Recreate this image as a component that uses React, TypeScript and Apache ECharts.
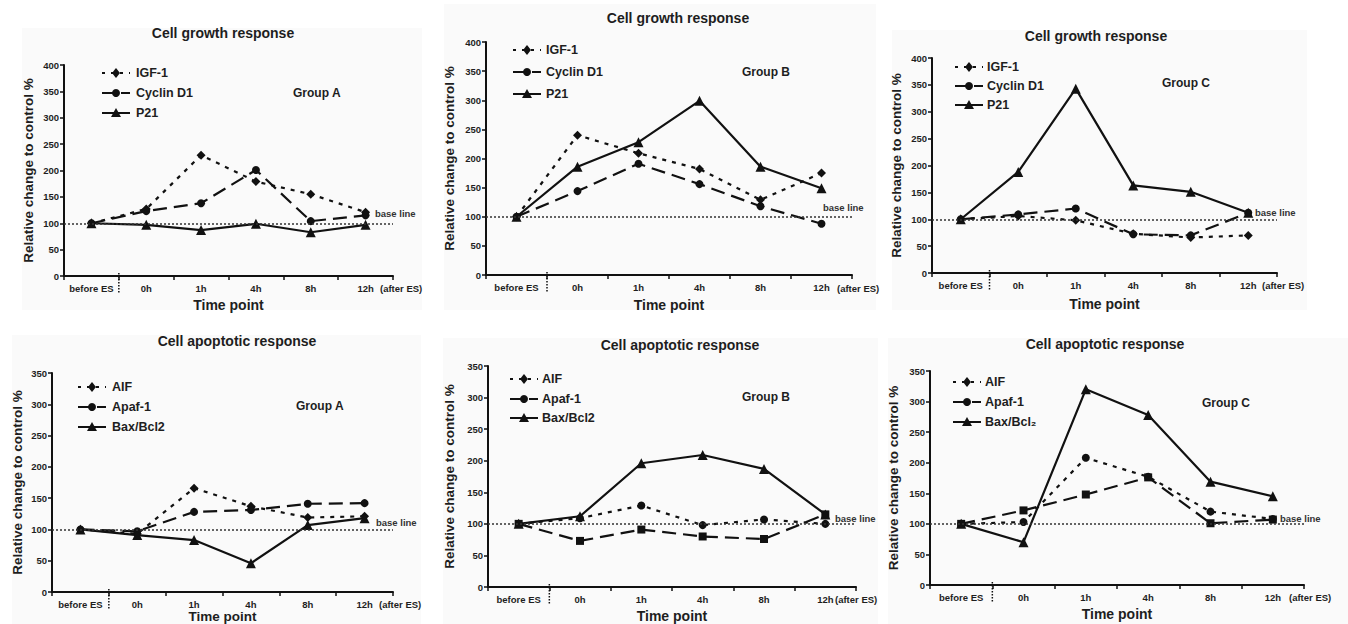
import React, { useEffect, useRef } from 'react';
import * as echarts from 'echarts';

const FONT = 'Liberation Sans, Arial, sans-serif';

const categories = ['before ES', '0h', '1h', '4h', '8h', '12h'];

const growthNames = ['IGF-1', 'Cyclin D1', 'P21'];
const apopNames = ['AIF', 'Apaf-1', 'Bax/Bcl2'];
const apopNamesC = ['AIF', 'Apaf-1', 'Bax/Bcl₂'];

// Cell growth response
const growthA_IGF1 = [100, 127, 229, 179, 155, 121];
const growthA_CyclinD1 = [100, 123, 138, 201, 104, 115];
const growthA_P21 = [100, 97, 87, 99, 83, 97];

const growthB_IGF1 = [100, 240, 209, 182, 129, 175];
const growthB_CyclinD1 = [100, 144, 191, 156, 118, 88];
const growthB_P21 = [100, 186, 228, 299, 186, 149];

const growthC_IGF1 = [100, 106, 98, 73, 66, 70];
const growthC_CyclinD1 = [100, 109, 120, 72, 70, 112];
const growthC_P21 = [100, 188, 343, 163, 151, 112];

// Cell apoptotic response
const apopA_AIF = [100, 93, 166, 137, 119, 121];
const apopA_Apaf1 = [100, 97, 128, 131, 141, 142];
const apopA_BaxBcl2 = [100, 91, 83, 46, 107, 118];

const apopB_AIF = [100, 109, 129, 98, 107, 100];
const apopB_Apaf1 = [100, 73, 91, 80, 76, 115];
const apopB_BaxBcl2 = [100, 112, 196, 209, 187, 115];

const apopC_AIF = [100, 103, 208, 177, 120, 108];
const apopC_Apaf1 = [100, 122, 148, 176, 101, 107];
const apopC_BaxBcl2 = [100, 70, 320, 278, 169, 145];

const growthMax = 400;
const apopMax = 350;
const tickInterval = 50;
const baseLineValue = 100;

const panels = [
  {
    title: 'Cell growth response', group: 'Group A', names: growthNames,
    data: [growthA_IGF1, growthA_CyclinD1, growthA_P21],
    symbols: ['diamond', 'circle', 'triangle'], max: growthMax,
    grid: { left: 64, top: 65, width: 329, height: 211 },
    titlePos: [223, 33], legend: { x: 102, ys: [73, 93, 113], tx: 136 },
    groupPos: [293, 93], basePos: [375, 213], afterPos: [380, 288],
    bg: [22, 28, 400, 282], yGap: 29, xGap: 22, xNameSize: 14,
  },
  {
    title: 'Cell growth response', group: 'Group B', names: growthNames,
    data: [growthB_IGF1, growthB_CyclinD1, growthB_P21],
    symbols: ['diamond', 'circle', 'triangle'], max: growthMax,
    grid: { left: 486, top: 42, width: 366, height: 233 },
    titlePos: [678, 18], legend: { x: 513, ys: [50, 72, 94], tx: 546 },
    groupPos: [742, 72], basePos: [823, 207], afterPos: [837, 288],
    bg: [444, 4, 432, 306], yGap: 30, xGap: 23, xNameSize: 14,
  },
  {
    title: 'Cell growth response', group: 'Group C', names: growthNames,
    data: [growthC_IGF1, growthC_CyclinD1, growthC_P21],
    symbols: ['diamond', 'circle', 'triangle'], max: growthMax,
    grid: { left: 932, top: 58, width: 345, height: 215 },
    titlePos: [1096, 36], legend: { x: 955, ys: [67, 86, 105], tx: 987 },
    groupPos: [1162, 83], basePos: [1255, 212], afterPos: [1262, 285],
    bg: [892, 30, 415, 280], yGap: 29, xGap: 24, xNameSize: 14,
  },
  {
    title: 'Cell apoptotic response', group: 'Group A', names: apopNames,
    data: [apopA_AIF, apopA_Apaf1, apopA_BaxBcl2],
    symbols: ['diamond', 'circle', 'triangle'], max: apopMax,
    grid: { left: 52, top: 373, width: 341, height: 219 },
    titlePos: [237, 341], legend: { x: 78, ys: [387, 407, 427], tx: 112 },
    groupPos: [296, 406], basePos: [376, 522], afterPos: [379, 604],
    bg: [12, 335, 409, 289], yGap: 28, xGap: 16, xNameSize: 13.5,
  },
  {
    title: 'Cell apoptotic response', group: 'Group B', names: apopNames,
    data: [apopB_AIF, apopB_Apaf1, apopB_BaxBcl2],
    symbols: ['circle', 'rect', 'triangle'], max: apopMax,
    grid: { left: 488, top: 366, width: 368, height: 221 },
    titlePos: [680, 345], legend: { x: 510, ys: [379, 399, 418], tx: 542 },
    groupPos: [742, 397], basePos: [835, 518], afterPos: [835, 599],
    bg: [443, 338, 435, 286], yGap: 32, xGap: 22, xNameSize: 14,
  },
  {
    title: 'Cell apoptotic response', group: 'Group C', names: apopNamesC,
    data: [apopC_AIF, apopC_Apaf1, apopC_BaxBcl2],
    symbols: ['circle', 'rect', 'triangle'], max: apopMax,
    grid: { left: 930, top: 371, width: 374, height: 214 },
    titlePos: [1105, 344], legend: { x: 953, ys: [382, 402, 422], tx: 985 },
    groupPos: [1202, 403], basePos: [1280, 518], afterPos: [1289, 597],
    bg: [888, 338, 460, 286], yGap: 30, xGap: 22, xNameSize: 14,
  },
];

const legendSymbols = ['diamond', 'circle', 'triangle'];
const lineDashes: any[] = [[3, 6], [12, 7], null];
const seriesDash: any[] = [[4, 6], [14, 7], 'solid'];
const symbolSizes: Record<string, number> = { diamond: 9, circle: 8, triangle: 10, rect: 8 };

const INK = '#111';
const TEXT = '#1e1e1e';

function legendSymbol(kind: string, cx: number, cy: number) {
  if (kind === 'circle') {
    return { type: 'circle', shape: { cx, cy, r: 4 }, style: { fill: INK } };
  }
  if (kind === 'diamond') {
    return {
      type: 'polygon',
      shape: { points: [[cx, cy - 5], [cx + 4, cy], [cx, cy + 5], [cx - 4, cy]] },
      style: { fill: INK },
    };
  }
  return {
    type: 'polygon',
    shape: { points: [[cx, cy - 5], [cx + 5, cy + 4], [cx - 5, cy + 4]] },
    style: { fill: INK },
  };
}

function buildOption() {
  const grids: any[] = [];
  const xAxes: any[] = [];
  const yAxes: any[] = [];
  const series: any[] = [];
  const graphics: any[] = [];

  panels.forEach((p, i) => {
    grids.push({ ...p.grid, containLabel: false, outerBoundsMode: 'none' });
    xAxes.push({
      type: 'category', gridIndex: i, data: categories, boundaryGap: true,
      axisLine: { show: true, lineStyle: { color: INK, width: 2 } },
      axisTick: { show: true, length: 4, lineStyle: { color: INK, width: 1.5 } },
      axisLabel: { interval: 0, fontSize: 9.5, fontWeight: 'bold', color: TEXT, margin: 7, fontFamily: FONT },
      splitLine: { show: false },
      name: 'Time point', nameLocation: 'middle', nameGap: p.xGap,
      nameTextStyle: { fontSize: p.xNameSize, fontWeight: 'bold', color: TEXT, fontFamily: FONT },
    });
    yAxes.push({
      type: 'value', gridIndex: i, min: 0, max: p.max, interval: tickInterval,
      axisLine: { show: true, lineStyle: { color: INK, width: 2 } },
      axisTick: { show: true, length: 4, lineStyle: { color: INK, width: 1.5 } },
      axisLabel: { fontSize: 9.5, fontWeight: 'bold', color: TEXT, margin: 5, fontFamily: FONT },
      splitLine: { show: false },
      name: 'Relative change to control %', nameLocation: 'middle', nameGap: p.yGap,
      nameTextStyle: { fontSize: 13.5, fontWeight: 'bold', color: TEXT, fontFamily: FONT },
    });

    p.data.forEach((vals, k) => {
      const s: any = {
        type: 'line', name: p.names[k] + ' ' + p.group + ' ' + i, xAxisIndex: i, yAxisIndex: i,
        data: vals, symbol: p.symbols[k], symbolSize: symbolSizes[p.symbols[k]],
        lineStyle: { color: INK, width: 2.2, type: seriesDash[k] },
        itemStyle: { color: INK },
        z: 3,
      };
      if (k === 0) {
        s.markLine = {
          silent: true, symbol: ['none', 'none'], label: { show: false },
          lineStyle: { type: [2, 2], color: '#333', width: 1.5 },
          data: [{ yAxis: baseLineValue }],
        };
      }
      series.push(s);
    });

    graphics.push({
      type: 'rect', z: -10, silent: true,
      shape: { x: p.bg[0], y: p.bg[1], width: p.bg[2], height: p.bg[3] },
      style: { fill: '#fafafa' },
    });
    graphics.push({
      type: 'text', x: p.titlePos[0], y: p.titlePos[1],
      style: { text: p.title, font: `bold 14px ${FONT}`, fill: TEXT, align: 'center', verticalAlign: 'middle' },
    });
    graphics.push({
      type: 'text', x: p.groupPos[0], y: p.groupPos[1],
      style: { text: p.group, font: `bold 12px ${FONT}`, fill: TEXT, align: 'left', verticalAlign: 'middle' },
    });
    graphics.push({
      type: 'text', x: p.basePos[0], y: p.basePos[1],
      style: { text: 'base line', font: `bold 9.5px ${FONT}`, fill: '#333', align: 'left', verticalAlign: 'middle' },
    });
    graphics.push({
      type: 'text', x: p.afterPos[0], y: p.afterPos[1],
      style: { text: '(after ES)', font: `bold 9.5px ${FONT}`, fill: TEXT, align: 'left', verticalAlign: 'middle' },
    });
    const divX = p.grid.left + p.grid.width / categories.length;
    const axisY = p.grid.top + p.grid.height;
    graphics.push({
      type: 'line',
      shape: { x1: divX, y1: axisY - 3, x2: divX, y2: axisY + 18 },
      style: { stroke: INK, lineWidth: 1.5, lineDash: [1.5, 1.5] },
    });
    p.names.forEach((n, k) => {
      const y = p.legend.ys[k];
      const x0 = p.legend.x;
      graphics.push({
        type: 'line',
        shape: { x1: x0, y1: y, x2: x0 + 28, y2: y },
        style: { stroke: INK, lineWidth: 2, lineDash: lineDashes[k] },
      });
      graphics.push(legendSymbol(legendSymbols[k], x0 + 14, y));
      graphics.push({
        type: 'text', x: p.legend.tx, y,
        style: { text: n, font: `bold 12.5px ${FONT}`, fill: TEXT, align: 'left', verticalAlign: 'middle' },
      });
    });
  });

  return {
    animation: false,
    backgroundColor: '#ffffff',
    grid: grids,
    xAxis: xAxes,
    yAxis: yAxes,
    series,
    graphic: { elements: graphics },
  };
}

export default function App() {
  const ref = useRef<HTMLDivElement>(null);
  useEffect(() => {
    document.body.style.margin = '0';
    if (!ref.current) return;
    const chart = echarts.init(ref.current, null, { renderer: 'svg' });
    chart.setOption(buildOption() as any);
    return () => chart.dispose();
  }, []);
  return (
    <div
      ref={ref}
      style={{ position: 'absolute', left: 0, top: 0, width: 1348, height: 624 }}
    />
  );
}
